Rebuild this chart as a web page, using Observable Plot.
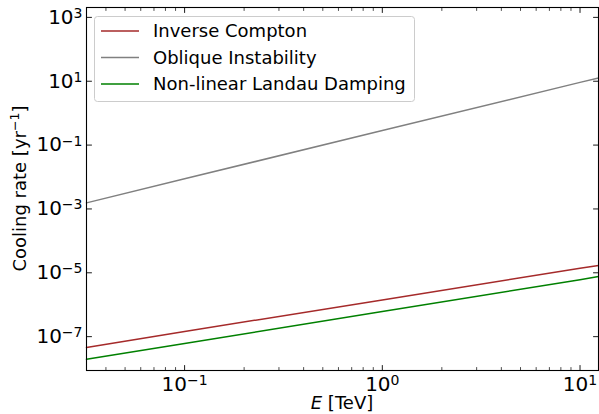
<!DOCTYPE html>
<html><head><meta charset="utf-8">
<script src="https://cdn.jsdelivr.net/npm/d3@7"></script>
<script src="https://cdn.jsdelivr.net/npm/@observablehq/plot@0.6"></script>
<style>body{margin:0;background:#fff} svg{display:block}</style>
</head><body><div id="chart"></div>
<script>
// Data (E in TeV, cooling rate in yr^-1)
const energy = [0.0319, 0.1, 1, 10, 12.4];
const inverseCompton = [4.6e-8, 1.45e-7, 1.41e-6, 1.38e-5, 1.7e-5];
const obliqueInstability = [1.55e-3, 8.8e-3, 0.285, 9.2, 12.6];
const landauDamping = [1.95e-8, 6.1e-8, 6.1e-7, 6.1e-6, 7.6e-6];
const seriesNames = ["Inverse Compton", "Oblique Instability", "Non-linear Landau Damping"];
const seriesColors = ["#a52a2a", "#808080", "#008000"];
const xMajor = [0.1, 1, 10];
const xMinor = [0.04,0.05,0.06,0.07,0.08,0.09,0.2,0.3,0.4,0.5,0.6,0.7,0.8,0.9,2,3,4,5,6,7,8,9];
const yMajor = [1e-7, 1e-5, 1e-3, 1e-1, 1e1, 1e3];
const xDomain = [0.0319, 12.4];
const yDomain = [8.7e-9, 2040];

const seriesValues = [inverseCompton, obliqueInstability, landauDamping];
const rows = seriesNames.flatMap((name, k) => energy.map((E, i) => ({E, rate: seriesValues[k][i], name})));

// tick label "10|exp" is rebuilt below with a real superscript tspan
const fmt = d => "10|" + String(Math.round(Math.log10(d))).replace("-", "\u2212");

const tickUp = {draw(c, l) { c.moveTo(0, 0); c.lineTo(0, -l); }};
const tickDown = {draw(c, l) { c.moveTo(0, 0); c.lineTo(0, l); }};
const tickRight = {draw(c, l) { c.moveTo(0, 0); c.lineTo(l, 0); }};
const tickLeft = {draw(c, l) { c.moveTo(0, 0); c.lineTo(-l, 0); }};

const W = 599, H = 414, mL = 86, mR = 1, mT = 7, mB = 44;
const TICK_FS = 20, LABEL_FS = 18;
const plot = Plot.plot({
  width: W, height: H, marginLeft: mL, marginRight: mR, marginTop: mT, marginBottom: mB,
  style: {fontFamily: "DejaVu Sans", fontSize: "16px", color: "black", background: "white", overflow: "visible"},
  x: {type: "log", domain: xDomain},
  y: {type: "log", domain: yDomain},
  color: {domain: seriesNames, range: seriesColors},
  marks: [
    Plot.axisX(xMajor, {tickSize: 0, tickPadding: 6, tickFormat: fmt, label: null, fontSize: TICK_FS}),
    Plot.axisY(yMajor, {tickSize: 0, tickPadding: 4, tickFormat: fmt, label: null, fontSize: TICK_FS}),
    Plot.line(rows, {x: "E", y: "rate", z: "name", stroke: "name", strokeWidth: 1.5}),
    Plot.vector(xMajor, {x: d => d, frameAnchor: "bottom", length: 5, anchor: "start", shape: tickUp, stroke: "black", strokeWidth: 0.9}),
    Plot.vector(xMinor, {x: d => d, frameAnchor: "bottom", length: 3, anchor: "start", shape: tickUp, stroke: "black", strokeWidth: 0.7}),
    Plot.vector(xMajor, {x: d => d, frameAnchor: "top", length: 5, anchor: "start", shape: tickDown, stroke: "black", strokeWidth: 0.9}),
    Plot.vector(xMinor, {x: d => d, frameAnchor: "top", length: 3, anchor: "start", shape: tickDown, stroke: "black", strokeWidth: 0.7}),
    Plot.vector(yMajor, {y: d => d, frameAnchor: "left", length: 5, anchor: "start", shape: tickRight, stroke: "black", strokeWidth: 0.9}),
    Plot.vector(yMajor, {y: d => d, frameAnchor: "right", length: 5, anchor: "start", shape: tickLeft, stroke: "black", strokeWidth: 0.9}),
    Plot.frame({stroke: "black", strokeWidth: 1.1})
  ]
});

const svg = d3.select(plot);
// superscript tick labels
svg.selectAll("text").each(function() {
  const t = this.textContent;
  if (!t.includes("|")) return;
  const [base, exp] = t.split("|");
  const sel = d3.select(this);
  sel.text(null);
  sel.append("tspan").text(base);
  sel.append("tspan").attr("dy", "-0.42em").attr("font-size", TICK_FS * 0.7).text(exp);
});
// axis labels
const xl = svg.append("text").attr("x", (mL + W - mR) / 2).attr("y", 409)
  .attr("text-anchor", "middle").attr("font-family", "DejaVu Sans").attr("font-size", LABEL_FS).attr("fill", "black");
xl.append("tspan").attr("font-style", "italic").text("E");
xl.append("tspan").text(" [TeV]");
const yl = svg.append("text").attr("transform", `translate(26,${(mT + H - mB) / 2}) rotate(-90)`)
  .attr("text-anchor", "middle").attr("font-family", "DejaVu Sans").attr("font-size", LABEL_FS).attr("fill", "black");
yl.append("tspan").text("Cooling rate [yr");
yl.append("tspan").attr("dy", -7).attr("font-size", LABEL_FS * 0.7).text("\u22121");
yl.append("tspan").attr("dy", 7).text("]");

// legend
const lg = svg.append("g").attr("font-family", "DejaVu Sans").attr("font-size", LABEL_FS).attr("text-anchor", "start");
lg.append("rect").attr("x", 94.5).attr("y", 16.5).attr("width", 320).attr("height", 85).attr("rx", 3)
  .attr("fill", "white").attr("fill-opacity", 0.8).attr("stroke", "#cccccc");
seriesNames.forEach((name, i) => {
  const y = 31 + i * 26.5;
  lg.append("line").attr("x1", 101).attr("x2", 139).attr("y1", y).attr("y2", y)
    .attr("stroke", seriesColors[i]).attr("stroke-width", 1.5);
  lg.append("text").attr("x", 153).attr("y", y).attr("dy", "0.36em").attr("fill", "black").attr("text-anchor", "start").text(name);
});

document.getElementById("chart").appendChild(plot);
</script>
</body></html>
